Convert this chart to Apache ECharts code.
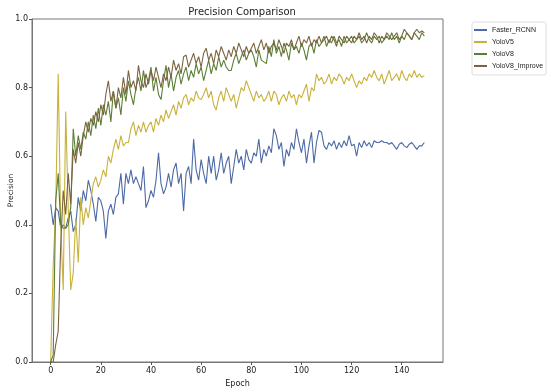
<!DOCTYPE html>
<html>
<head>
<meta charset="utf-8">
<script src="https://cdn.jsdelivr.net/npm/echarts@6/dist/echarts.min.js"></script>
<style>
html, body { margin: 0; padding: 0; background: #fff; }
#chart { width: 550px; height: 392px; }
</style>
</head>
<body>
<div id="chart"></div>
<script>
const seriesNames = ['Faster_RCNN', 'YoloV5', 'YoloV8', 'YoloV8_Improve'];
const xTicks = [0, 20, 40, 60, 80, 100, 120, 140];

const fasterRcnn = [
    0.46, 0.40, 0.45, 0.44, 0.39, 0.40, 0.39, 0.42, 0.44, 0.38,
    0.40, 0.48, 0.44, 0.50, 0.47, 0.53, 0.50, 0.46, 0.41, 0.48,
    0.47, 0.44, 0.36, 0.44, 0.46, 0.43, 0.48, 0.49, 0.55, 0.46,
    0.55, 0.52, 0.56, 0.52, 0.54, 0.52, 0.50, 0.57, 0.45, 0.47,
    0.50, 0.48, 0.53, 0.61, 0.52, 0.49, 0.51, 0.55, 0.51, 0.56,
    0.58, 0.52, 0.55, 0.44, 0.55, 0.57, 0.52, 0.65, 0.56, 0.53,
    0.59, 0.55, 0.52, 0.60, 0.55, 0.60, 0.53, 0.56, 0.61, 0.55,
    0.58, 0.60, 0.52, 0.57, 0.62, 0.58, 0.60, 0.56, 0.62, 0.59,
    0.58, 0.61, 0.60, 0.65, 0.58, 0.62, 0.60, 0.63, 0.61, 0.68,
    0.66, 0.62, 0.64, 0.57, 0.62, 0.60, 0.64, 0.62, 0.68, 0.64,
    0.61, 0.65, 0.58, 0.63, 0.67, 0.58, 0.64, 0.675, 0.67, 0.63,
    0.62, 0.64, 0.63, 0.645, 0.62, 0.64, 0.625, 0.645, 0.63, 0.66,
    0.63, 0.635, 0.60, 0.64, 0.625, 0.645, 0.63, 0.64, 0.625, 0.645,
    0.64, 0.64, 0.645, 0.64, 0.64, 0.635, 0.64, 0.63, 0.62, 0.635,
    0.64, 0.63, 0.625, 0.635, 0.64, 0.63, 0.62, 0.63, 0.63, 0.64
];
const yoloV5 = [
    0.0, 0.28, 0.45, 0.84, 0.40, 0.21, 0.73, 0.45, 0.21, 0.26,
    0.42, 0.29, 0.48, 0.40, 0.45, 0.42, 0.47, 0.52, 0.54, 0.51,
    0.53, 0.56, 0.54, 0.60, 0.58, 0.62, 0.65, 0.62, 0.66, 0.63,
    0.64, 0.64, 0.68, 0.70, 0.66, 0.69, 0.67, 0.70, 0.67, 0.69,
    0.70, 0.67, 0.71, 0.69, 0.72, 0.70, 0.735, 0.71, 0.73, 0.75,
    0.72, 0.76, 0.74, 0.77, 0.78, 0.75, 0.77, 0.76, 0.79, 0.77,
    0.765, 0.78, 0.80, 0.77, 0.79, 0.75, 0.735, 0.77, 0.79, 0.76,
    0.80, 0.78, 0.76, 0.78, 0.74, 0.77, 0.80, 0.79, 0.82, 0.80,
    0.78, 0.76, 0.79, 0.77, 0.78, 0.76, 0.77, 0.79, 0.76, 0.79,
    0.78, 0.75, 0.77, 0.78, 0.76, 0.79, 0.77, 0.78, 0.75, 0.78,
    0.77, 0.79, 0.81, 0.76, 0.80, 0.79, 0.84, 0.82, 0.83, 0.81,
    0.82, 0.84, 0.81, 0.83, 0.82, 0.84, 0.83, 0.81, 0.83, 0.82,
    0.84, 0.82, 0.80, 0.82, 0.81, 0.83, 0.82, 0.84, 0.83, 0.85,
    0.83, 0.82, 0.84, 0.81, 0.83, 0.85, 0.82, 0.83, 0.84, 0.82,
    0.85, 0.83, 0.82, 0.84, 0.83, 0.85, 0.83, 0.84, 0.83, 0.835
];
const yoloV8 = [
    0.0, 0.02, 0.47, 0.55, 0.40, 0.39, 0.39, 0.40, 0.45, 0.68,
    0.60, 0.66, 0.62, 0.67, 0.65, 0.70, 0.66, 0.72, 0.68, 0.74,
    0.69, 0.75, 0.72, 0.76, 0.70, 0.79, 0.74, 0.77, 0.72, 0.80,
    0.76, 0.82, 0.78, 0.75, 0.80, 0.83, 0.79, 0.85, 0.80, 0.82,
    0.86, 0.79, 0.83, 0.78, 0.765, 0.82, 0.865, 0.80, 0.84, 0.79,
    0.83, 0.85, 0.81, 0.84, 0.86, 0.82, 0.85, 0.83, 0.87, 0.84,
    0.86, 0.82, 0.85, 0.88, 0.84, 0.87, 0.85, 0.89, 0.86, 0.88,
    0.86, 0.85, 0.85, 0.88, 0.90, 0.87, 0.89, 0.91, 0.88, 0.90,
    0.91, 0.89, 0.86, 0.91, 0.88, 0.875, 0.87, 0.92, 0.89, 0.94,
    0.90, 0.92, 0.89, 0.93, 0.91, 0.88, 0.93, 0.91, 0.92, 0.90,
    0.93, 0.91, 0.88, 0.92, 0.93, 0.90, 0.94, 0.92, 0.93, 0.95,
    0.92, 0.94, 0.93, 0.95, 0.93, 0.94, 0.92, 0.95, 0.93, 0.94,
    0.95, 0.93, 0.94, 0.95, 0.93, 0.94, 0.96, 0.94, 0.93, 0.95,
    0.94, 0.95, 0.93, 0.94, 0.95, 0.94, 0.96, 0.94, 0.95, 0.93,
    0.95, 0.94, 0.96, 0.95, 0.94, 0.96, 0.95, 0.94, 0.96, 0.95
];
const yoloV8Improve = [
    0.0, 0.0, 0.05, 0.09, 0.34, 0.50, 0.43, 0.55, 0.46, 0.62,
    0.58, 0.64, 0.60, 0.66, 0.70, 0.67, 0.71, 0.69, 0.73, 0.70,
    0.75, 0.72, 0.78, 0.82, 0.76, 0.79, 0.74, 0.80, 0.77, 0.83,
    0.78, 0.85, 0.80, 0.82, 0.79, 0.865, 0.82, 0.80, 0.84, 0.81,
    0.85, 0.82, 0.86, 0.83, 0.80, 0.84, 0.82, 0.86, 0.83, 0.88,
    0.85, 0.87, 0.84, 0.89, 0.895, 0.86, 0.88, 0.90, 0.87, 0.89,
    0.86, 0.90, 0.915, 0.88, 0.90, 0.87, 0.91, 0.89, 0.92, 0.90,
    0.88, 0.91, 0.89, 0.92, 0.90, 0.93, 0.91, 0.89, 0.92, 0.90,
    0.915, 0.93, 0.90, 0.92, 0.94, 0.91, 0.93, 0.90, 0.92, 0.93,
    0.91, 0.94, 0.92, 0.90, 0.93, 0.92, 0.94, 0.91, 0.93, 0.95,
    0.92, 0.94, 0.93, 0.95, 0.92, 0.94, 0.93, 0.95, 0.93, 0.94,
    0.95, 0.93, 0.95, 0.94, 0.92, 0.95, 0.94, 0.93, 0.95, 0.94,
    0.93, 0.95, 0.94, 0.96, 0.94, 0.95, 0.93, 0.95, 0.94, 0.96,
    0.95, 0.93, 0.95, 0.94, 0.96, 0.95, 0.94, 0.95, 0.96, 0.94,
    0.95, 0.97, 0.96, 0.95, 0.94, 0.96, 0.97, 0.96, 0.965, 0.96
];

const colors = ['#4c6aa6', '#c8b23c', '#5b7f35', '#7c6440'];

function toPoints(values) {
    return values.map(function (v, i) { return [i, v]; });
}

const font = 'DejaVu Sans';
const allSeries = [fasterRcnn, yoloV5, yoloV8, yoloV8Improve].map(function (vals, i) {
    return {
        name: seriesNames[i],
        type: 'line',
        data: toPoints(vals),
        showSymbol: false,
        lineStyle: { width: 1.1, color: colors[i] },
        itemStyle: { color: colors[i] }
    };
});

var option = {
    animation: false,
    title: {
        text: 'Precision Comparison',
        left: 237,
        top: 2,
        textAlign: 'center',
        textStyle: { fontFamily: font, fontSize: 10, fontWeight: 'normal', color: '#222' }
    },
    legend: {
        orient: 'vertical',
        left: 472,
        top: 22,
        itemWidth: 13,
        itemHeight: 2,
        itemGap: 4,
        padding: [4, 3, 5, 2],
        borderColor: '#ddd',
        borderWidth: 1,
        borderRadius: 2,
        icon: 'rect',
        textStyle: { fontFamily: 'Liberation Sans', fontSize: 7, color: '#222', lineHeight: 8 },
        data: seriesNames
    },
    grid: {
        left: 32,
        right: 107,
        top: 19,
        bottom: 30,
        outerBoundsMode: 'none',
        show: true,
        borderColor: '#777',
        borderWidth: 1
    },
    xAxis: {
        type: 'value',
        min: -7.45,
        max: 156.45,
        name: 'Epoch',
        nameLocation: 'middle',
        nameGap: 17,
        nameTextStyle: { fontFamily: font, fontSize: 8, color: '#222' },
        splitLine: { show: false },
        axisLine: { onZero: false, lineStyle: { color: '#777' } },
        axisTick: { show: true, length: 3, customValues: xTicks, lineStyle: { color: '#555' } },
        axisLabel: { customValues: xTicks, fontFamily: font, fontSize: 8, color: '#222', margin: 5 }
    },
    yAxis: {
        type: 'value',
        min: 0,
        max: 1,
        interval: 0.2,
        name: 'Precision',
        nameLocation: 'middle',
        nameGap: 17,
        nameMoveOverlap: false,
        nameTextStyle: { fontFamily: font, fontSize: 7.5, color: '#222' },
        splitLine: { show: false },
        axisLine: { show: true, onZero: false, lineStyle: { color: '#777' } },
        axisTick: { show: true, length: 3, lineStyle: { color: '#555' } },
        axisLabel: {
            fontFamily: font, fontSize: 8, color: '#222', margin: 4,
            formatter: function (v) { return v.toFixed(1); }
        }
    },
    series: allSeries
};

var chart = echarts.init(document.getElementById('chart'));
chart.setOption(option);
</script>
</body>
</html>
